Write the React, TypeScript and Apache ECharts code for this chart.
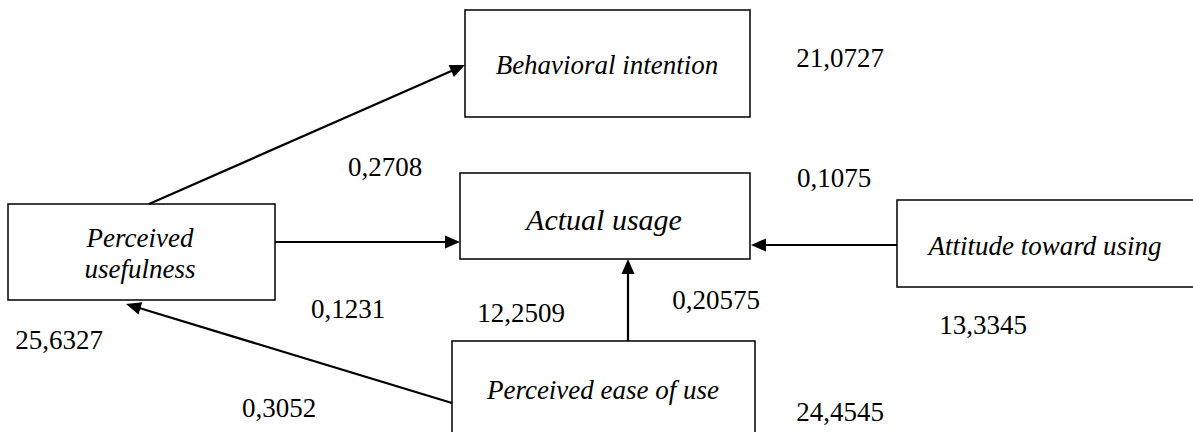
import React, { useEffect, useRef } from "react";
import * as echarts from "echarts";

// ---- content ----
const nodeLabels = [
  "Behavioral intention",
  "Actual usage",
  "Perceived\nusefulness",
  "Attitude toward using",
  "Perceived ease of use",
];
const pathCoefficients = ["0,2708", "0,1075", "0,1231", "12,2509", "0,20575", "0,3052"];
const varianceValues = ["21,0727", "13,3345", "25,6327", "24,4545"];

// ---- layout (pixel-like diagram coordinates) ----
const boxRects = [
  [465, 10, 750, 117],
  [460, 173, 750, 259],
  [8, 204, 275, 300],
  [897, 200, 1197, 287],
  [452, 341, 755, 440],
];
const labelCenters = [
  [607, 65],
  [604, 219],
  [140, 253],
  [1045, 246],
  [603, 390],
];
const labelSizes = [27, 30, 27, 27, 27];
const arrowPaths = [
  [149, 204, 465, 65],
  [275, 242, 460, 242],
  [897, 245, 751, 245],
  [628, 341, 628, 259],
  [452, 403, 126, 304],
];
const coefficientCenters = [
  [385, 167],
  [834, 178],
  [348, 309],
  [521, 313],
  [716, 300],
  [279, 408],
];
const varianceCenters = [
  [840, 58],
  [983, 325],
  [59, 340],
  [840, 412],
];

const FONT = '"Liberation Serif", "Times New Roman", serif';

export default function App() {
  const ref = useRef<HTMLDivElement>(null);
  useEffect(() => {
    document.body.style.margin = "0";
    const chart = echarts.init(ref.current!, null, { renderer: "svg" });

    const numberTexts = [...pathCoefficients, ...varianceValues];
    const numberPos = [...coefficientCenters, ...varianceCenters];

    chart.setOption({
      animation: false,
      backgroundColor: "#ffffff",
      grid: { left: 0, right: 0, top: 0, bottom: 0 },
      xAxis: { type: "value", min: 0, max: 1193, show: false },
      yAxis: { type: "value", min: 0, max: 432, inverse: true, show: false },
      series: [
        {
          type: "custom",
          name: "boxes",
          clip: false,
          data: boxRects.map((_, i) => i),
          renderItem: (params: any, api: any) => {
            const r = boxRects[params.dataIndex];
            const p1 = api.coord([r[0], r[1]]);
            const p2 = api.coord([r[2], r[3]]);
            const c = api.coord(labelCenters[params.dataIndex]);
            return {
              type: "group",
              children: [
                {
                  type: "rect",
                  shape: { x: p1[0], y: p1[1], width: p2[0] - p1[0], height: p2[1] - p1[1] },
                  style: { fill: "#ffffff", stroke: "#000000", lineWidth: 1.5 },
                },
                {
                  type: "text",
                  style: {
                    text: nodeLabels[params.dataIndex],
                    x: c[0],
                    y: c[1],
                    align: "center",
                    verticalAlign: "middle",
                    fontFamily: FONT,
                    fontStyle: "italic",
                    fontSize: labelSizes[params.dataIndex],
                    lineHeight: 31,
                    fill: "#000000",
                  },
                },
              ],
            };
          },
        },
        {
          type: "custom",
          name: "arrows",
          clip: false,
          data: arrowPaths.map((_, i) => i),
          renderItem: (params: any, api: any) => {
            const a = arrowPaths[params.dataIndex];
            const s = api.coord([a[0], a[1]]);
            const t = api.coord([a[2], a[3]]);
            const dx = t[0] - s[0];
            const dy = t[1] - s[1];
            const len = Math.sqrt(dx * dx + dy * dy);
            const ux = dx / len;
            const uy = dy / len;
            const px = -uy;
            const py = ux;
            const L = 15;
            const W = 6.5;
            const bx = t[0] - ux * L;
            const by = t[1] - uy * L;
            return {
              type: "group",
              children: [
                {
                  type: "line",
                  shape: { x1: s[0], y1: s[1], x2: bx + ux * 2, y2: by + uy * 2 },
                  style: { stroke: "#000000", lineWidth: 2.2 },
                },
                {
                  type: "polygon",
                  shape: {
                    points: [
                      [t[0], t[1]],
                      [bx + px * W, by + py * W],
                      [bx - px * W, by - py * W],
                    ],
                  },
                  style: { fill: "#000000" },
                },
              ],
            };
          },
        },
        {
          type: "custom",
          name: "values",
          clip: false,
          data: numberTexts.map((_, i) => i),
          renderItem: (params: any, api: any) => {
            const c = api.coord(numberPos[params.dataIndex]);
            return {
              type: "text",
              style: {
                text: numberTexts[params.dataIndex],
                x: c[0],
                y: c[1],
                align: "center",
                verticalAlign: "middle",
                fontFamily: FONT,
                fontSize: 27,
                fill: "#000000",
              },
            };
          },
        },
      ],
    });
    return () => chart.dispose();
  }, []);
  return <div ref={ref} style={{ width: 1193, height: 432 }} />;
}
